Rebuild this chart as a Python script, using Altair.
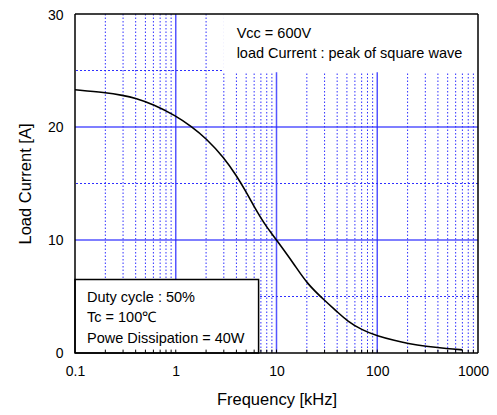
import altair as alt
import pandas as pd

# ---- data ----
freq_khz = [0.1, 0.2, 0.3, 0.4, 0.6, 1, 1.43, 2, 3, 4, 5, 6, 7, 8, 9, 10, 15, 20,
            30, 40, 50, 70, 100, 150, 200, 300, 500, 700]
load_current = [23.3, 23.05, 22.8, 22.55, 22.0, 21.0, 20.05, 19.0, 17.3, 15.7, 14.25,
                12.95, 11.95, 11.15, 10.55, 10.0, 7.85, 6.15, 4.65, 3.65, 2.85, 2.05, 1.5,
                1.1, 0.85, 0.58, 0.38, 0.28]

x_ticks = [0.1, 1, 10, 100, 1000]
y_ticks = [0, 10, 20, 30]
major_x = [1, 10, 100]
minor_x = [m * d for d in [0.1, 1, 10, 100] for m in range(2, 10)]
major_y = [10, 20]
minor_y = [5, 15, 25]

note_top = ["Vcc = 600V", "load Current : peak of square wave"]
note_bottom = ["Duty cycle : 50%", "Tc = 100\u2103", "Powe Dissipation = 40W"]

FONT = "Liberation Sans"
xs = alt.Scale(type="log", domain=[0.1, 1000], nice=False)
ys = alt.Scale(domain=[0, 30], nice=False, zero=False)

x_axis = alt.Axis(values=x_ticks, format="~g", grid=False, domain=False,
                  ticks=False, labelPadding=11, labelFontSize=14,
                  labelFont=FONT, labelColor="black", titleFont=FONT,
                  titleFontSize=16.5, titleFontWeight="normal",
                  titleColor="black", titleBaseline="alphabetic", titleY=51,
                  labelFlush=False, labelOverlap=False,
                  labelOffset={"condition": {"test": "datum.value >= 1000", "value": -5},
                               "value": 0})
y_axis = alt.Axis(values=y_ticks, grid=False, domain=False, ticks=False,
                  labelPadding=12, labelFontSize=14, labelFont=FONT,
                  labelColor="black", titleFont=FONT, titleFontSize=16.5,
                  titleFontWeight="normal", titleColor="black",
                  titleBaseline="alphabetic", titleX=-45,
                  labelFlush=False, labelOverlap=False,
                  labelOffset={"condition": {"test": "datum.value >= 30", "value": 1.5},
                               "value": 0})


def X(field):
    return alt.X(field, type="quantitative", scale=xs, axis=x_axis,
                 title="Frequency [kHz]")


def Y(field):
    return alt.Y(field, type="quantitative", scale=ys, axis=y_axis,
                 title="Load Current [A]")


curve_df = pd.DataFrame({"f": freq_khz, "i": load_current})

minor_v = alt.Chart(pd.DataFrame({"x": minor_x})).mark_rule(
    color="#1a1aff", strokeWidth=1, strokeDash=[1.5, 2], opacity=0.9
).encode(x=X("x"))
major_v = alt.Chart(pd.DataFrame({"x": major_x})).mark_rule(
    color="#2a2aff", strokeWidth=1.5, opacity=0.8
).encode(x=X("x"))
minor_h = alt.Chart(pd.DataFrame({"y": minor_y})).mark_rule(
    color="#1a1aff", strokeWidth=1, strokeDash=[2, 2], opacity=0.9
).encode(y=Y("y"))
major_h = alt.Chart(pd.DataFrame({"y": major_y})).mark_rule(
    color="#2a2aff", strokeWidth=1.5, opacity=0.8
).encode(y=Y("y"))

# white boxes for annotations
top_box = alt.Chart(pd.DataFrame({"x": [2.95], "x2": [1000], "y": [24.85], "y2": [30]})).mark_rect(
    fill="white"
).encode(x=X("x"), x2="x2", y=Y("y"), y2="y2")
bottom_box = alt.Chart(pd.DataFrame({"x": [0.1], "x2": [6.64], "y": [0], "y2": [6.5]})).mark_rect(
    fill="white", stroke="black", strokeWidth=1.5
).encode(x=X("x"), x2="x2", y=Y("y"), y2="y2")

# bottom small ticks
ticks = alt.Chart(pd.DataFrame({"x": minor_x + major_x, "y": 0.0, "y2": 0.3})).mark_rule(
    color="black", strokeWidth=1
).encode(x=X("x"), y=Y("y"), y2="y2")

# frame
frame_v = alt.Chart(pd.DataFrame({"x": [0.1, 1000]})).mark_rule(
    color="black", strokeWidth=1.5
).encode(x=X("x"))
frame_h = alt.Chart(pd.DataFrame({"y": [0, 30]})).mark_rule(
    color="black", strokeWidth=1.5
).encode(y=Y("y"))

curve = alt.Chart(curve_df).mark_line(
    color="black", strokeWidth=1.6, interpolate="basis"
).encode(x=X("f"), y=Y("i"))

top_text = alt.Chart(pd.DataFrame({"x": [4.02, 4.02], "y": [27.88, 26.1],
                                   "t": note_top})).mark_text(
    align="left", baseline="alphabetic", font=FONT, fontSize=14.5, color="black"
).encode(x=X("x"), y=Y("y"), text="t:N")
bottom_text = alt.Chart(pd.DataFrame({"x": [0.1315] * 3, "y": [4.5, 2.73, 0.88],
                                      "t": note_bottom})).mark_text(
    align="left", baseline="alphabetic", font=FONT, fontSize=14.5, color="black"
).encode(x=X("x"), y=Y("y"), text="t:N")

chart = alt.layer(
    minor_v, minor_h, major_v, major_h, top_box, bottom_box, ticks,
    curve, frame_v, frame_h, top_text, bottom_text
).properties(
    width=403, height=339,
    autosize=alt.AutoSizeParams(type="none"),
    padding={"left": 67, "top": 6, "right": 11, "bottom": 55},
).configure_view(stroke=None)

chart.save("out.html", embed_options={"renderer": "svg", "actions": False})
